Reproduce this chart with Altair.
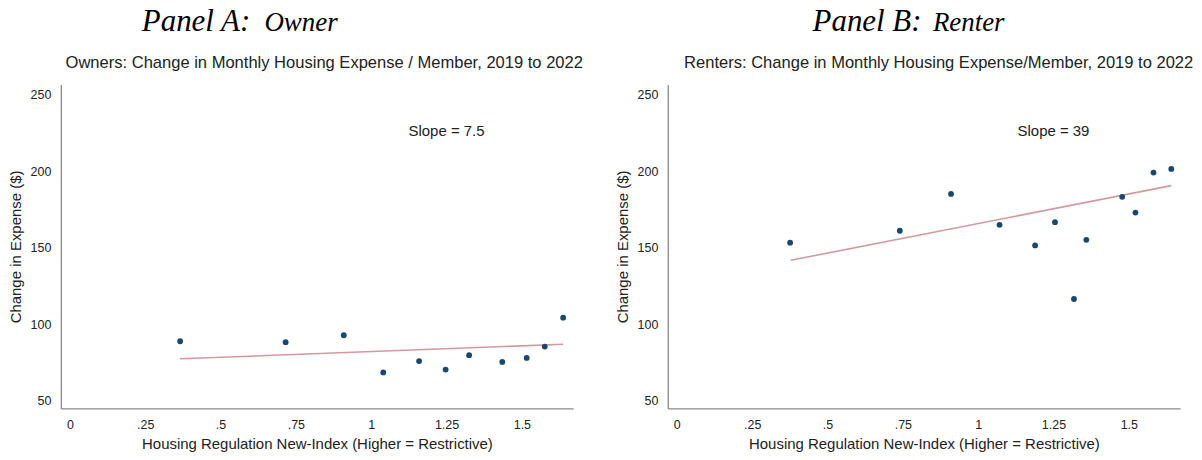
import altair as alt
import pandas as pd

# ---------------- data ----------------
owner_x = [0.366, 0.716, 0.909, 1.040, 1.159, 1.247, 1.325, 1.435, 1.516, 1.576, 1.637]
owner_y = [88.9, 88.3, 92.8, 68.5, 75.9, 70.4, 79.8, 75.4, 78.0, 85.4, 104.3]
owner_fit_x = [0.366, 1.637]
owner_fit_y = [77.4, 86.9]
owner_slope = "Slope = 7.5"

renter_x = [0.376, 0.740, 0.910, 1.071, 1.189, 1.255, 1.318, 1.359, 1.478, 1.522, 1.582, 1.641]
renter_y = [153.3, 161.1, 185.2, 165.0, 151.5, 166.7, 116.5, 155.2, 183.3, 173.0, 199.1, 201.5]
renter_fit_x = [0.378, 1.641]
renter_fit_y = [141.8, 190.6]
renter_slope = "Slope = 39"

slope_pos = (1.25, 226)

x_tick_values = [0, 0.25, 0.5, 0.75, 1, 1.25, 1.5]
x_tick_labels = ["0", ".25", ".5", ".75", "1", "1.25", "1.5"]
y_tick_values = [50, 100, 150, 200, 250]

x_title = "Housing Regulation New-Index (Higher = Restrictive)"
y_title = "Change in Expense ($)"

# ---------------- style ----------------
W, H = 514, 325
X_DOMAIN = [-0.03, 1.67]
Y_DOMAIN = [45, 256.7]
SANS = "Liberation Sans"
SERIF = "Liberation Serif"
POINT_COLOR = "#1a476f"
FIT_COLOR = "#d29a9e"
AXIS_COLOR = "#8a8a8a"

label_expr = " : ".join(
    f"datum.value == {v} ? '{l}'" for v, l in zip(x_tick_values, x_tick_labels)
) + " : ''"


def panel(px, py, fx, fy, slope, head, head2, sub, head_x, head2_x, sub_x):
    pts = pd.DataFrame({"x": px, "y": py})
    fit = pd.DataFrame({"x": fx, "y": fy})
    xenc = alt.X(
        "x:Q",
        scale=alt.Scale(domain=X_DOMAIN, nice=False, zero=False),
        axis=alt.Axis(
            values=x_tick_values, labelExpr=label_expr, title=x_title,
            grid=False, ticks=False, tickSize=0, domainColor=AXIS_COLOR,
            domainWidth=1.3, labelPadding=10, labelFontSize=12.5,
            labelFont=SANS, labelColor="#222", titleFont=SANS,
            titleFontSize=15, titleFontWeight="normal", titleColor="#222",
            titlePadding=6, labelFlush=False,
        ),
    )
    yenc = alt.Y(
        "y:Q",
        scale=alt.Scale(domain=Y_DOMAIN, nice=False, zero=False),
        axis=alt.Axis(
            values=y_tick_values, title=y_title, grid=False, ticks=False,
            tickSize=0, domainColor=AXIS_COLOR, domainWidth=1.3,
            labelPadding=10, labelFontSize=12.5, labelFont=SANS,
            labelColor="#222", titleFont=SANS, titleFontSize=15,
            titleFontWeight="normal", titleColor="#222", titlePadding=7,
            labelFlush=False,
        ),
    )
    line = alt.Chart(fit).mark_line(color=FIT_COLOR, strokeWidth=1.6).encode(x=xenc, y=yenc)
    dots = alt.Chart(pts).mark_circle(color=POINT_COLOR, size=34, opacity=1).encode(x="x:Q", y="y:Q")
    stext = alt.Chart(pd.DataFrame({"x": [slope_pos[0]], "y": [slope_pos[1]], "t": [slope]})).mark_text(
        font=SANS, fontSize=15, color="#222", align="center", baseline="middle"
    ).encode(x="x:Q", y="y:Q", text="t:N")
    h1 = alt.Chart(pd.DataFrame({"t": [head]})).mark_text(
        font=SERIF, fontSize=31, fontStyle="italic", color="#000", align="left", baseline="alphabetic"
    ).encode(x=alt.value(head_x), y=alt.value(-54), text="t:N")
    h2 = alt.Chart(pd.DataFrame({"t": [head2]})).mark_text(
        font=SERIF, fontSize=27, fontStyle="italic", color="#000", align="left", baseline="alphabetic"
    ).encode(x=alt.value(head2_x), y=alt.value(-54), text="t:N")
    st = alt.Chart(pd.DataFrame({"t": [sub]})).mark_text(
        font=SANS, fontSize=16.6, color="#222", align="center", baseline="alphabetic"
    ).encode(x=alt.value(sub_x), y=alt.value(-17), text="t:N")
    return alt.layer(line, dots, stext, h1, h2, st).properties(width=W, height=H)


pa = panel(owner_x, owner_y, owner_fit_x, owner_fit_y, owner_slope,
           "Panel A:", "Owner", "Owners: Change in Monthly Housing Expense / Member, 2019 to 2022",
           81.3, 204.3, 264.3)
pb = panel(renter_x, renter_y, renter_fit_x, renter_fit_y, renter_slope,
           "Panel B:", "Renter", "Renters: Change in Monthly Housing Expense/Member, 2019 to 2022",
           145.3, 266.0, 271.8)

chart = alt.hconcat(pa, pb, spacing=95, bounds="flush").properties(
    padding={"left": 0, "top": -3, "right": 0, "bottom": 0},
).configure(background="white").configure_view(stroke=None)

chart.save("out.html", embed_options={"renderer": "svg", "actions": False})
